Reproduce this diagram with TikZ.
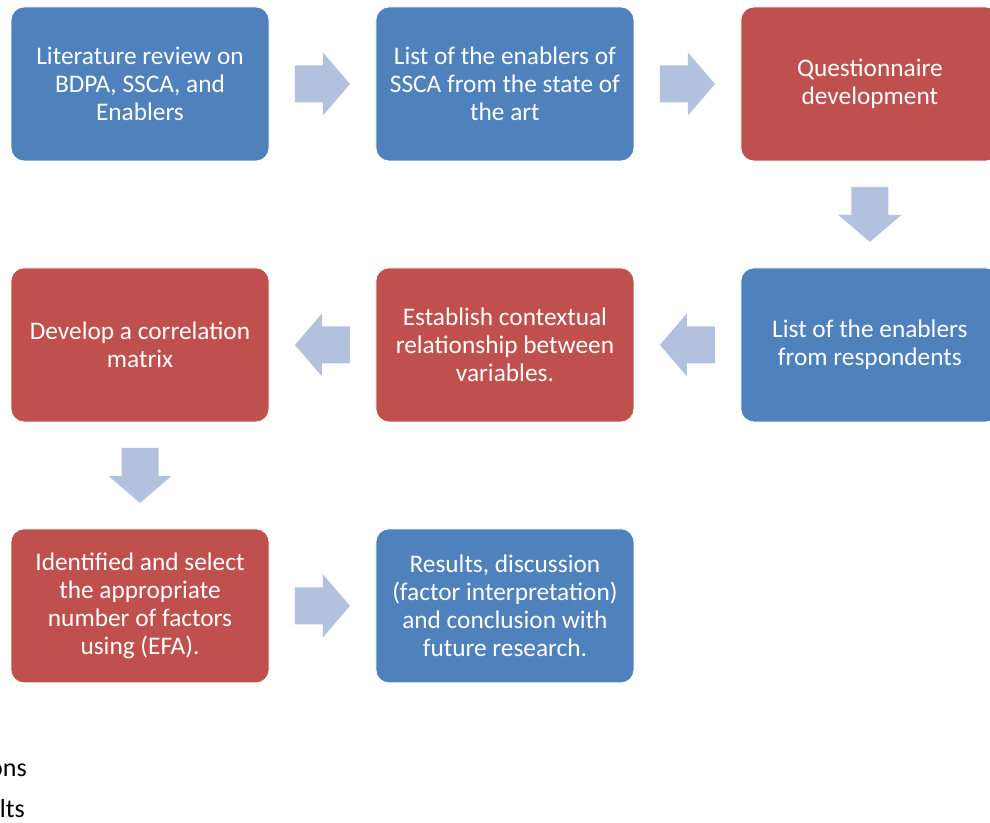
\documentclass[tikz,border=0pt]{standalone}
\usepackage{fontspec}
\setmainfont{Carlito}
\usepackage{tikz}
\usetikzlibrary{calc,positioning}
\definecolor{bluec}{HTML}{4F81BD}
\definecolor{redc}{HTML}{C0504D}
\definecolor{arrc}{HTML}{B2C1DD}
\tikzset{
  box/.style={draw=white,line width=0.6pt,rounded corners=9.75pt,minimum width=193.5pt,minimum height=115.5pt,align=center,text=white,font=\fontsize{19}{21}\selectfont,inner sep=4pt},
  bbox/.style={box,fill=bluec},
  rbox/.style={box,fill=redc}
}
\newcommand{\barr}[2]{\fill[arrc,shift={(#1)},rotate=#2] (-27.5,-18.5)--(0.5,-18.5)--(0.5,-31.5)--(27.5,0)--(0.5,31.5)--(0.5,18.5)--(-27.5,18.5)--cycle;}

\begin{document}
\begin{tikzpicture}[x=0.75pt,y=-0.75pt,node distance=79.6pt]
\clip (0,0) rectangle (990,823);
\node[bbox] (lit) at (140,84) {Literature review on\\BDPA, SSCA, and\\Enablers};
\node[bbox,right=of lit] (sota) {List of the enablers of\\SSCA from the state of\\the art};
\node[rbox,right=of sota] (quest) {Questionnaire\\development};
\node[bbox,below=of quest] (resp) {List of the enablers\\from respondents};
\node[rbox,left=of resp] (ctx) {Establish contextual\\relationship between\\variables.};
\node[rbox,left=of ctx] (corr) {Develop a correlation\\matrix};
\node[rbox,below=of corr] (efa) {Identified and select\\the appropriate\\number of factors\\using (EFA).};
\node[bbox,right=of efa] (res) {Results, discussion\\(factor interpretation)\\and conclusion with\\future research.};
\foreach \a/\b/\r in {lit/sota/0,sota/quest/0,quest/resp/-90,resp/ctx/180,ctx/corr/180,corr/efa/-90,efa/res/0}
  {\barr{$(\a)!0.5!(\b)$}{\r}}
\node[anchor=base east,font=\fontsize{19.5}{23}\selectfont,inner sep=0pt] (ons) at (27,776) {ons};
\node[anchor=base east,font=\fontsize{19.5}{23}\selectfont,inner sep=0pt] (lts) at (25,817) {lts};
\end{tikzpicture}
\end{document}
